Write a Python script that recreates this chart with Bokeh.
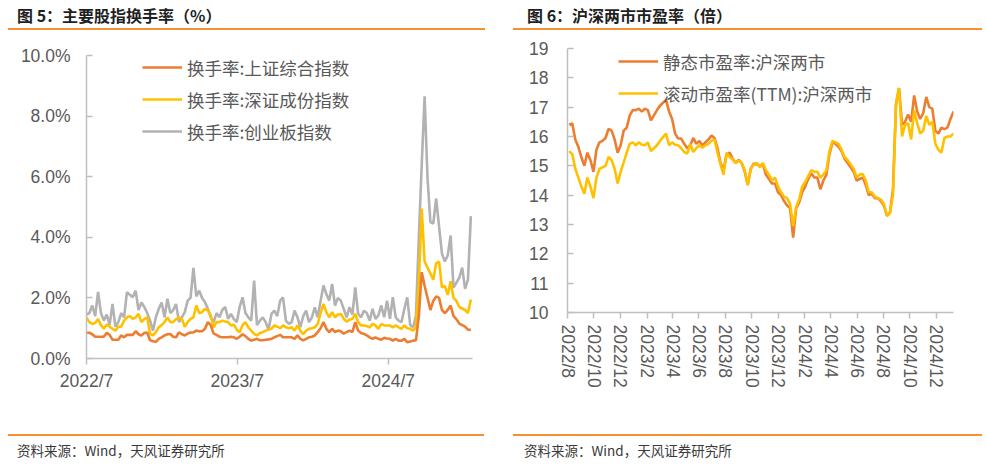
import pandas as pd
from bokeh.plotting import figure
from bokeh.models import Range1d, FixedTicker, Legend, LegendItem, Div
from bokeh.layouts import row, column
from bokeh.embed import file_html
from bokeh.resources import INLINE

# ---------------- data ----------------
left_title = "图 5：主要股指换手率（%）"
right_title = "图 6：沪深两市市盈率（倍）"
source_note = "资料来源：Wind，天风证券研究所"

turnover_start = "2022-07-01"   # weekly observations
turnover_sse = [
    0.85, 0.85, 0.80, 0.72, 0.72, 0.72, 0.72, 0.85, 0.78, 0.62,
    0.62, 0.62, 0.76, 0.70, 0.78, 0.78, 0.78, 0.90, 0.80, 0.76,
    0.84, 0.86, 0.60, 0.57, 0.55, 0.65, 0.70, 0.76, 0.80, 0.81,
    0.72, 0.70, 0.86, 0.80, 0.76, 0.82, 0.86, 0.86, 0.92, 0.90,
    0.90, 0.98, 1.20, 1.10, 0.82, 0.78, 0.72, 0.70, 0.70, 0.70,
    0.72, 0.70, 0.65, 0.72, 0.80, 0.74, 0.65, 0.59, 0.62, 0.65,
    0.60, 0.60, 0.62, 0.63, 0.65, 0.70, 0.74, 0.78, 0.70, 0.70,
    0.70, 0.70, 0.65, 0.76, 0.65, 0.60, 0.65, 0.70, 0.72, 0.76,
    0.87, 1.00, 1.20, 0.98, 0.87, 0.98, 0.87, 0.92, 0.90, 0.82,
    0.87, 0.92, 0.87, 1.20, 0.92, 0.84, 0.81, 0.76, 0.70, 0.65,
    0.70, 0.65, 0.62, 0.68, 0.66, 0.65, 0.59, 0.65, 0.59, 0.59,
    0.65, 0.54, 0.56, 0.59, 0.60, 1.40, 2.85, 2.40, 2.00, 1.60,
    1.90, 2.05, 2.00, 1.60, 1.50, 1.60, 1.75, 1.40, 1.30, 1.15,
    1.10, 1.05, 0.95, 0.95,
]
turnover_szse = [
    1.35, 1.20, 1.14, 1.17, 1.30, 1.10, 0.98, 1.12, 1.05, 0.98,
    0.92, 1.05, 1.05, 1.25, 1.36, 1.40, 1.31, 1.36, 1.47, 1.20,
    1.30, 1.36, 0.81, 0.76, 0.87, 1.03, 1.10, 1.20, 1.36, 1.20,
    1.20, 1.30, 1.36, 1.31, 1.05, 1.20, 1.31, 1.36, 1.75, 1.50,
    1.53, 1.64, 1.58, 1.42, 1.03, 1.20, 1.20, 1.25, 1.22, 1.20,
    1.09, 1.12, 0.95, 0.87, 1.10, 1.20, 1.03, 0.92, 0.81, 0.76,
    0.84, 0.87, 0.92, 0.95, 0.98, 1.09, 1.05, 1.00, 1.09, 1.03,
    1.00, 1.03, 0.92, 1.09, 0.92, 0.80, 0.92, 0.98, 1.00, 1.03,
    1.14, 1.50, 1.80, 1.53, 1.36, 1.53, 1.36, 1.45, 1.47, 1.31,
    1.22, 1.28, 1.31, 1.47, 1.20, 1.09, 1.09, 1.07, 1.03, 1.14,
    1.09, 0.98, 1.14, 1.09, 1.09, 1.09, 1.03, 1.09, 1.03, 0.98,
    1.09, 1.00, 0.98, 0.92, 1.03, 2.50, 4.95, 3.20, 3.00, 2.80,
    2.60, 3.15, 3.20, 2.35, 2.40, 2.10, 2.55, 2.00, 1.90, 1.70,
    1.65, 1.60, 1.50, 1.95,
]
turnover_chinext = [
    1.45, 1.50, 1.75, 1.40, 2.20, 1.50, 1.25, 1.45, 1.10, 1.80,
    1.05, 1.20, 1.50, 1.36, 2.19, 2.10, 2.02, 2.24, 1.60, 1.85,
    1.70, 1.50, 1.25, 0.92, 1.36, 1.64, 1.85, 1.36, 1.97, 1.50,
    1.60, 1.80, 1.20, 1.36, 1.53, 1.91, 2.00, 2.99, 2.05, 2.24,
    2.00, 1.86, 1.64, 1.36, 1.20, 1.50, 1.36, 1.60, 1.70, 1.31,
    1.47, 1.30, 1.20, 1.70, 2.02, 1.50, 1.36, 1.25, 2.57, 1.10,
    1.25, 1.36, 1.20, 0.95, 1.47, 1.58, 1.40, 1.90, 2.02, 1.25,
    1.14, 1.20, 1.58, 1.36, 1.03, 1.40, 1.58, 1.20, 1.36, 1.69,
    1.36, 1.90, 2.41, 2.13, 1.91, 2.46, 1.75, 2.00, 1.91, 1.64,
    1.36, 1.69, 1.45, 2.35, 1.47, 1.36, 1.58, 1.50, 1.25, 1.64,
    1.31, 1.42, 1.75, 1.36, 1.91, 1.31, 2.02, 1.36, 1.25, 1.20,
    1.64, 2.02, 1.10, 1.03, 1.40, 4.00, 6.40, 8.65, 5.97, 4.50,
    4.45, 5.28, 4.35, 3.46, 3.20, 3.40, 4.06, 2.34, 2.50, 2.67,
    3.00, 2.30, 2.60, 4.70,
]
left_names = ["换手率:上证综合指数", "换手率:深证成份指数", "换手率:创业板指数"]
left_xticks = ["2022/7", "2023/7", "2024/7"]
left_yticks = [0, 2, 4, 6, 8, 10]
left_ylabels = ["0.0%", "2.0%", "4.0%", "6.0%", "8.0%", "10.0%"]

pe_start = "2022-08-05"   # weekly observations
pe_static = [
    16.40, 16.45, 15.90, 15.65, 15.30, 15.00, 15.45, 15.20, 14.80, 15.55,
    15.80, 15.85, 15.95, 16.26, 16.20, 15.90, 15.45, 15.70, 16.20, 16.30,
    16.72, 16.90, 16.90, 16.95, 16.85, 16.95, 16.90, 16.55, 16.72, 16.90,
    17.05, 17.15, 17.25, 16.85, 16.60, 16.10, 15.93, 15.93, 15.75, 15.60,
    15.70, 15.95, 15.75, 15.85, 15.70, 15.80, 15.90, 16.03, 15.95, 15.60,
    15.10, 14.85, 15.40, 15.45, 15.25, 15.10, 15.20, 15.10, 14.80, 14.35,
    14.90, 15.08, 15.05, 15.00, 15.05, 14.70, 14.55, 14.40, 14.40, 14.10,
    14.00, 13.80, 13.65, 13.55, 12.55, 13.55, 13.75, 14.10, 14.30, 14.55,
    14.75, 14.60, 14.60, 14.20, 14.50, 14.70, 15.40, 15.80, 15.75, 15.65,
    15.50, 15.24, 15.10, 14.95, 14.80, 14.50, 14.55, 14.60, 14.35, 14.00,
    14.05, 13.90, 13.90, 13.80, 13.65, 13.30, 13.40, 14.20, 17.10, 17.65,
    16.40, 16.50, 16.75, 16.50, 17.40, 16.85, 16.60, 16.80, 17.35, 17.00,
    16.95, 16.20, 16.10, 16.30, 16.25, 16.30, 16.60, 16.85,
]
pe_ttm = [
    15.50, 15.40, 14.90, 14.60, 14.30, 14.05, 14.60, 14.30, 13.90, 14.60,
    14.90, 14.95, 15.00, 15.30, 15.20, 14.90, 14.40, 14.80, 15.12, 15.45,
    15.75, 15.80, 15.70, 15.80, 15.72, 15.70, 15.80, 15.50, 15.60, 15.70,
    15.85, 15.98, 16.10, 15.70, 15.80, 15.72, 15.70, 15.60, 15.47, 15.42,
    15.75, 15.47, 15.60, 15.70, 15.62, 15.70, 15.75, 15.85, 15.90, 15.45,
    15.05, 14.70, 15.45, 15.30, 15.22, 15.10, 15.17, 15.10, 14.85, 14.35,
    14.90, 15.05, 15.10, 14.95, 15.10, 14.85, 14.70, 14.50, 14.60, 14.30,
    14.10, 13.95, 13.90, 13.70, 12.95, 13.60, 13.85, 14.30, 14.45, 14.65,
    14.85, 14.80, 14.80, 14.60, 14.70, 14.85, 15.50, 15.85, 15.80, 15.75,
    15.55, 15.30, 15.20, 15.05, 14.90, 14.60, 14.70, 14.72, 14.50, 14.10,
    14.10, 13.95, 13.90, 13.85, 13.70, 13.30, 13.40, 14.00, 17.10, 17.65,
    16.00, 16.40, 16.45, 15.90, 16.90, 16.45, 16.10, 16.20, 16.70, 16.40,
    16.50, 15.75, 15.55, 15.45, 15.95, 16.00, 16.00, 16.10,
]
right_names = ["静态市盈率:沪深两市", "滚动市盈率(TTM):沪深两市"]
right_xticks = ["2022/8", "2022/10", "2022/12", "2023/2", "2023/4", "2023/6", "2023/8",
                "2023/10", "2023/12", "2024/2", "2024/4", "2024/6", "2024/8", "2024/10",
                "2024/12"]
right_yticks = [10, 11, 12, 13, 14, 15, 16, 17, 18, 19]

# ---------------- style ----------------
ORANGE = "#ED7D31"
YELLOW = "#FFC000"
GREY = "#B2B2B2"
RULE = "#F39231"
AXIS = "#BFBFBF"
LABEL = "#595959"
NUM_FONT = "Liberation Sans"
CJK = "Noto Sans CJK SC"


def month_ms(label):
    return int(pd.to_datetime(label + "/1", format="%Y/%m/%d").value // 10**6)


def style_axes(p, xlabels, yticks, ylabels, y_standoff, x_standoff):
    xt = [month_ms(t) for t in xlabels]
    ax = p.xaxis[0]
    ax.ticker = FixedTicker(ticks=xt)
    ax.major_label_overrides = dict(zip(xt, xlabels))
    ay = p.yaxis[0]
    ay.ticker = FixedTicker(ticks=yticks)
    ay.major_label_overrides = dict(zip(yticks, ylabels))
    for a in (ax, ay):
        a.axis_line_color = AXIS
        a.axis_line_width = 1.5
        a.major_tick_line_color = AXIS
        a.major_tick_line_width = 1.5
        a.minor_tick_line_color = None
        a.major_label_text_font = NUM_FONT
        a.major_label_text_font_size = "17.5px"
        a.major_label_text_color = LABEL
    ax.major_tick_in = 0
    ax.major_tick_out = 6
    ax.major_label_standoff = x_standoff
    ay.major_tick_in = 6
    ay.major_tick_out = 0
    ay.major_label_standoff = y_standoff
    p.grid.visible = False
    p.outline_line_color = None


def make_legend(items, loc):
    return Legend(items=items, location=loc, glyph_width=40, glyph_height=26,
                  label_height=26, spacing=6, padding=0, margin=0, label_standoff=5,
                  background_fill_alpha=0, border_line_alpha=0,
                  label_text_font=CJK, label_text_font_size="17.5px",
                  label_text_color=LABEL)


def header(text, col_w, lpad, line_w, tpad):
    html = (f'<div style="margin-left:{lpad}px;width:{line_w}px;height:22px;'
            f'border-bottom:2px solid {RULE};">'
            f'<div style="padding-left:{tpad}px;font-family:\'{CJK}\';font-weight:bold;'
            f'font-size:16px;line-height:14px;color:#1F1F1F;white-space:nowrap;">'
            f'{text}</div></div>')
    return Div(text=html, width=col_w, height=24, margin=0)


def footer(text, col_w, lpad, line_w, tpad):
    html = (f'<div style="margin-left:{lpad}px;width:{line_w}px;height:10px;'
            f'border-bottom:2px solid {RULE};"></div>'
            f'<div style="margin-left:{lpad}px;padding-left:{tpad}px;margin-top:7px;'
            f'font-family:\'{CJK}\';font-size:13.5px;line-height:14px;color:#3A3A3A;'
            f'white-space:nowrap;">{text}</div>')
    return Div(text=html, width=col_w, height=33, margin=0)


# ---------------- left chart ----------------
t_dates = pd.date_range(turnover_start, periods=len(turnover_sse), freq="7D")
p1 = figure(width=497, height=394, x_axis_type="datetime", output_backend="svg",
            toolbar_location=None,
            x_range=Range1d(pd.Timestamp("2022-07-01"), pd.Timestamp("2025-01-21")),
            y_range=Range1d(0, 10),
            min_border_left=78, min_border_right=33, min_border_top=23,
            min_border_bottom=68, margin=0)
r_g = p1.line(t_dates, turnover_chinext, line_color=GREY, line_width=2.6)
r_y = p1.line(t_dates, turnover_szse, line_color=YELLOW, line_width=2.6)
r_o = p1.line(t_dates, turnover_sse, line_color=ORANGE, line_width=2.6)
style_axes(p1, left_xticks, left_yticks, left_ylabels, 16, 6)
p1.add_layout(make_legend([LegendItem(label=left_names[0], renderers=[r_o]),
                           LegendItem(label=left_names[1], renderers=[r_y]),
                           LegendItem(label=left_names[2], renderers=[r_g])], (56, 214)))

# ---------------- right chart ----------------
pe_dates = pd.date_range(pe_start, periods=len(pe_static), freq="7D")
p2 = figure(width=477, height=394, x_axis_type="datetime", output_backend="svg",
            toolbar_location=None,
            x_range=Range1d(pd.Timestamp("2022-08-01"), pd.Timestamp("2025-01-10")),
            y_range=Range1d(10, 19),
            min_border_left=62, min_border_right=29, min_border_top=16,
            min_border_bottom=114, margin=0)
r_s = p2.line(pe_dates, pe_static, line_color=ORANGE, line_width=2.6)
r_t = p2.line(pe_dates, pe_ttm, line_color=YELLOW, line_width=2.6)
style_axes(p2, right_xticks, right_yticks, [str(v) for v in right_yticks], 19, 6)
p2.xaxis.major_label_orientation = "vertical"
p2.add_layout(make_legend([LegendItem(label=right_names[0], renderers=[r_s]),
                           LegendItem(label=right_names[1], renderers=[r_t])], (51, 206)))

left_col = column(header(left_title, 497, 0, 477, 9), p1,
                  footer(source_note, 497, 0, 476, 9), spacing=0, margin=0)
right_col = column(header(right_title, 477, 8, 469, 14), p2,
                   footer(source_note, 477, 8, 469, 11), spacing=0, margin=0)
layout = row(left_col, right_col, spacing=0, margin=(8, 0, 0, 8))

open("out.html", "w").write(file_html(layout, INLINE))
